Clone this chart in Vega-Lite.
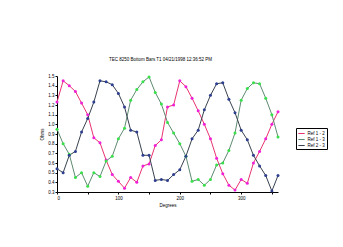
{
  "$schema": "https://vega.github.io/schema/vega-lite/v6.json",
  "width": 221,
  "height": 116,
  "autosize": {"type": "none"},
  "padding": {"left": 57, "top": 76, "right": 65, "bottom": 55},
  "background": "white",
  "title": {"text": "TEC 8250 Bottom Bars    T1 04/21/1998 12:36:52 PM", "fontSize": 4.5, "fontWeight": "normal", "offset": 12, "anchor": "middle", "frame": "group", "dx": -7, "color": "black", "font": "Liberation Sans"},
  "data": {"values": [
    {"d":0,"s":"Ref 1 - 2","v":1.23},{"d":10,"s":"Ref 1 - 2","v":1.45},{"d":20,"s":"Ref 1 - 2","v":1.40},{"d":30,"s":"Ref 1 - 2","v":1.34},{"d":40,"s":"Ref 1 - 2","v":1.22},{"d":50,"s":"Ref 1 - 2","v":1.10},{"d":60,"s":"Ref 1 - 2","v":0.86},{"d":70,"s":"Ref 1 - 2","v":0.81},{"d":80,"s":"Ref 1 - 2","v":0.63},{"d":90,"s":"Ref 1 - 2","v":0.48},{"d":100,"s":"Ref 1 - 2","v":0.41},{"d":110,"s":"Ref 1 - 2","v":0.34},{"d":120,"s":"Ref 1 - 2","v":0.45},{"d":130,"s":"Ref 1 - 2","v":0.40},{"d":140,"s":"Ref 1 - 2","v":0.57},{"d":150,"s":"Ref 1 - 2","v":0.59},{"d":160,"s":"Ref 1 - 2","v":0.78},{"d":170,"s":"Ref 1 - 2","v":0.84},{"d":180,"s":"Ref 1 - 2","v":1.18},{"d":190,"s":"Ref 1 - 2","v":1.20},{"d":200,"s":"Ref 1 - 2","v":1.45},{"d":210,"s":"Ref 1 - 2","v":1.39},{"d":220,"s":"Ref 1 - 2","v":1.27},{"d":230,"s":"Ref 1 - 2","v":1.14},{"d":240,"s":"Ref 1 - 2","v":1.00},{"d":250,"s":"Ref 1 - 2","v":0.85},{"d":260,"s":"Ref 1 - 2","v":0.65},{"d":270,"s":"Ref 1 - 2","v":0.49},{"d":280,"s":"Ref 1 - 2","v":0.37},{"d":290,"s":"Ref 1 - 2","v":0.32},{"d":300,"s":"Ref 1 - 2","v":0.43},{"d":310,"s":"Ref 1 - 2","v":0.39},{"d":320,"s":"Ref 1 - 2","v":0.60},{"d":330,"s":"Ref 1 - 2","v":0.72},{"d":340,"s":"Ref 1 - 2","v":0.85},{"d":350,"s":"Ref 1 - 2","v":1.00},{"d":360,"s":"Ref 1 - 2","v":1.13},
    {"d":0,"s":"Ref 1 - 3","v":0.95},{"d":10,"s":"Ref 1 - 3","v":0.80},{"d":20,"s":"Ref 1 - 3","v":0.69},{"d":30,"s":"Ref 1 - 3","v":0.45},{"d":40,"s":"Ref 1 - 3","v":0.50},{"d":50,"s":"Ref 1 - 3","v":0.36},{"d":60,"s":"Ref 1 - 3","v":0.50},{"d":70,"s":"Ref 1 - 3","v":0.46},{"d":80,"s":"Ref 1 - 3","v":0.62},{"d":90,"s":"Ref 1 - 3","v":0.67},{"d":100,"s":"Ref 1 - 3","v":0.85},{"d":110,"s":"Ref 1 - 3","v":0.96},{"d":120,"s":"Ref 1 - 3","v":1.25},{"d":130,"s":"Ref 1 - 3","v":1.36},{"d":140,"s":"Ref 1 - 3","v":1.44},{"d":150,"s":"Ref 1 - 3","v":1.49},{"d":160,"s":"Ref 1 - 3","v":1.33},{"d":170,"s":"Ref 1 - 3","v":1.21},{"d":180,"s":"Ref 1 - 3","v":1.02},{"d":190,"s":"Ref 1 - 3","v":0.91},{"d":200,"s":"Ref 1 - 3","v":0.80},{"d":210,"s":"Ref 1 - 3","v":0.67},{"d":220,"s":"Ref 1 - 3","v":0.41},{"d":230,"s":"Ref 1 - 3","v":0.43},{"d":240,"s":"Ref 1 - 3","v":0.37},{"d":250,"s":"Ref 1 - 3","v":0.43},{"d":260,"s":"Ref 1 - 3","v":0.58},{"d":270,"s":"Ref 1 - 3","v":0.60},{"d":280,"s":"Ref 1 - 3","v":0.73},{"d":290,"s":"Ref 1 - 3","v":0.91},{"d":300,"s":"Ref 1 - 3","v":1.25},{"d":310,"s":"Ref 1 - 3","v":1.37},{"d":320,"s":"Ref 1 - 3","v":1.43},{"d":330,"s":"Ref 1 - 3","v":1.42},{"d":340,"s":"Ref 1 - 3","v":1.27},{"d":350,"s":"Ref 1 - 3","v":1.10},{"d":360,"s":"Ref 1 - 3","v":0.87},
    {"d":0,"s":"Ref 2 - 3","v":0.54},{"d":10,"s":"Ref 2 - 3","v":0.50},{"d":20,"s":"Ref 2 - 3","v":0.68},{"d":30,"s":"Ref 2 - 3","v":0.72},{"d":40,"s":"Ref 2 - 3","v":0.92},{"d":50,"s":"Ref 2 - 3","v":1.06},{"d":60,"s":"Ref 2 - 3","v":1.23},{"d":70,"s":"Ref 2 - 3","v":1.45},{"d":80,"s":"Ref 2 - 3","v":1.44},{"d":90,"s":"Ref 2 - 3","v":1.41},{"d":100,"s":"Ref 2 - 3","v":1.32},{"d":110,"s":"Ref 2 - 3","v":1.18},{"d":120,"s":"Ref 2 - 3","v":0.94},{"d":130,"s":"Ref 2 - 3","v":0.92},{"d":140,"s":"Ref 2 - 3","v":0.68},{"d":150,"s":"Ref 2 - 3","v":0.68},{"d":160,"s":"Ref 2 - 3","v":0.42},{"d":170,"s":"Ref 2 - 3","v":0.43},{"d":180,"s":"Ref 2 - 3","v":0.42},{"d":190,"s":"Ref 2 - 3","v":0.48},{"d":200,"s":"Ref 2 - 3","v":0.53},{"d":210,"s":"Ref 2 - 3","v":0.67},{"d":220,"s":"Ref 2 - 3","v":0.85},{"d":230,"s":"Ref 2 - 3","v":0.94},{"d":240,"s":"Ref 2 - 3","v":1.15},{"d":250,"s":"Ref 2 - 3","v":1.30},{"d":260,"s":"Ref 2 - 3","v":1.42},{"d":270,"s":"Ref 2 - 3","v":1.43},{"d":280,"s":"Ref 2 - 3","v":1.26},{"d":290,"s":"Ref 2 - 3","v":1.12},{"d":300,"s":"Ref 2 - 3","v":0.94},{"d":310,"s":"Ref 2 - 3","v":0.84},{"d":320,"s":"Ref 2 - 3","v":0.68},{"d":330,"s":"Ref 2 - 3","v":0.57},{"d":340,"s":"Ref 2 - 3","v":0.47},{"d":350,"s":"Ref 2 - 3","v":0.31},{"d":360,"s":"Ref 2 - 3","v":0.47}
  ]},
  "encoding": {
    "x": {"field": "d", "type": "quantitative", "scale": {"domain": [0, 360], "nice": false},
          "axis": {"title": "Degrees", "values": [0,50,100,150,200,250,300,350], "labelExpr": "datum.value % 100 == 0 ? datum.label : ''"}},
    "y": {"field": "v", "type": "quantitative", "scale": {"domain": [0.3, 1.5], "nice": false, "zero": false},
          "axis": {"title": "Ohms", "values": [0.3,0.4,0.5,0.6,0.7,0.8,0.9,1.0,1.1,1.2,1.3,1.4,1.5], "format": ".1f"}}
  },
  "layer": [
    {"mark": {"type": "line", "strokeWidth": 1},
     "encoding": {"color": {"field": "s", "type": "nominal", "title": null,
        "scale": {"domain": ["Ref 1 - 2","Ref 1 - 3","Ref 2 - 3"], "range": ["#e8336e","#5f8a72","#38424f"]},
        "legend": {"orient": "none", "legendX": 239, "legendY": 52, "symbolType": "stroke", "symbolSize": 40, "symbolStrokeWidth": 1, "labelFontSize": 4.5, "rowPadding": 0, "padding": 1.5, "strokeColor": "black", "fillColor": "white", "labelLimit": 40, "symbolOffset": 0, "labelOffset": 2}}}},
    {"mark": {"type": "point", "filled": true, "size": 9, "opacity": 1},
     "encoding": {"color": {"field": "s", "type": "nominal",
        "scale": {"domain": ["Ref 1 - 2","Ref 1 - 3","Ref 2 - 3"], "range": ["#f020d8","#38e04a","#2e3f90"]},
        "legend": null}}}
  ],
  "resolve": {"scale": {"color": "independent"}},
  "config": {
    "font": "Liberation Sans",
    "view": {"stroke": null},
    "axis": {"grid": false, "domainColor": "black", "tickColor": "black", "labelColor": "black", "titleColor": "black",
             "labelFontSize": 4.5, "titleFontSize": 4.5, "titleFontWeight": "normal", "tickSize": 2, "labelPadding": 1, "titlePadding": 3, "domainWidth": 1, "tickWidth": 1},
    "legend": {"labelColor": "black"}
  }
}
